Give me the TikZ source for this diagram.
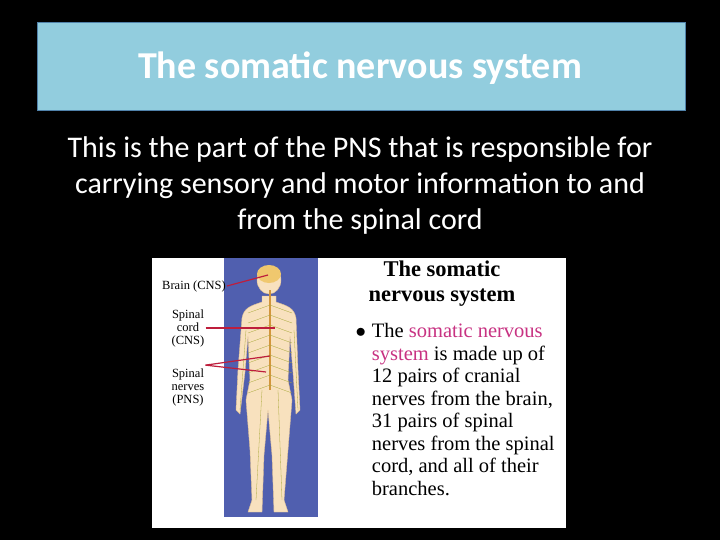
\documentclass[tikz,border=0pt]{standalone}
\usepackage{fontspec}
\setmainfont{Carlito}
\newfontfamily\tms{Liberation Serif}
\definecolor{tbord}{RGB}{80,130,170}
\definecolor{tfill}{RGB}{146,205,222}
\definecolor{panel}{RGB}{80,95,175}
\definecolor{skin}{RGB}{248,225,190}
\definecolor{skinb}{RGB}{220,190,150}
\definecolor{hair}{RGB}{240,200,110}
\definecolor{cordc}{RGB}{210,150,60}
\definecolor{nerve}{RGB}{170,170,60}
\definecolor{ptrc}{RGB}{190,30,60}
\definecolor{pink}{RGB}{200,50,130}
\begin{document}
\begin{tikzpicture}[x=1pt,y=-1pt,
  lbl/.style={font=\tms\fontsize{12.5}{13}\selectfont,align=center,text=black,inner sep=1pt},
  ptr/.style={draw=ptrc,line width=1.2pt}]
\useasboundingbox (0,0) rectangle (720,540);
\fill[black] (0,0) rectangle (720,540);
\node[draw=tbord,fill=tfill,minimum width=648pt,minimum height=88pt,line width=1pt,anchor=north west,inner sep=0pt] (title) at (37,22) {};
\node[text=white,font=\bfseries\fontsize{38}{38}\selectfont] (tt) at (360,68) {The somatic nervous system};
\node[text=white,font=\fontsize{30}{36}\selectfont,align=center] (body) at (360,186) {This is the part of the PNS that is responsible for\\carrying sensory and motor information to and\\from the spinal cord};
\fill[white] (152,258) rectangle (566,528);
\fill[panel] (224,258) rectangle (318,517);
% figure
\begin{scope}[fill=skin,draw=skinb,line width=0.4pt]
\filldraw (262,296) -- (262,302) .. controls (250,306) and (244,308) .. (242,318) -- (238,370) -- (236,410) -- (240,414) -- (245,372) -- (248,336) -- (250,380) -- (246,400) -- (250,450) -- (252,500) -- (248,512) -- (262,512) -- (264,455) -- (268,410) -- (272,455) -- (274,512) -- (288,512) -- (284,500) -- (288,450) -- (292,400) -- (288,380) -- (290,336) -- (293,372) -- (296,414) -- (300,410) -- (298,370) -- (296,318) .. controls (294,308) and (288,306) .. (276,302) -- (276,296) -- cycle;
\filldraw (269,280) ellipse (12 and 14);
\end{scope}
\fill[hair] (269,274) ellipse (12 and 9);
\draw[cordc,line width=1.2pt] (270,290) -- (270,390);
\foreach \y in {305,315,...,385}{\draw[nerve,line width=0.3pt] (270,\y) -- (248,\y+8) (270,\y) -- (292,\y+8);}
\draw[nerve,line width=0.3pt] (262,390) -- (256,500) (278,390) -- (282,500) (246,330) -- (240,410) (294,330) -- (298,410);
% labels
\node[lbl] (brain) at (194,286) {Brain (CNS)};
\node[lbl] (cord) at (188,328) {Spinal\\cord\\(CNS)};
\node[lbl] (nerv) at (188,387) {Spinal\\nerves\\(PNS)};
\coordinate (b1) at (268,275);
\coordinate (c1) at (275,328);
\coordinate (n1) at (270,356);
\coordinate (n2) at (266,372);
\draw[ptr] (brain.east) -- (b1);
\draw[ptr] (cord.east) -- (c1);
\draw[ptr] (nerv.north east) ++(0,-2) coordinate (nj) (nj) -- (n1);
\draw[ptr] (nj) -- (n2);
\node[font=\tms\bfseries\fontsize{22.5}{25}\selectfont,align=center] (rt) at (442,284) {The somatic\\nervous system};
\node[font=\tms\fontsize{20.5}{22.5}\selectfont,align=left,anchor=north west] (rb) at (352,320) {$\bullet$\hspace{6pt}The \textcolor{pink}{somatic nervous}\\\phantom{$\bullet$\hspace{6pt}}\textcolor{pink}{system} is made up of\\\phantom{$\bullet$\hspace{6pt}}12 pairs of cranial\\\phantom{$\bullet$\hspace{6pt}}nerves from the brain,\\\phantom{$\bullet$\hspace{6pt}}31 pairs of spinal\\\phantom{$\bullet$\hspace{6pt}}nerves from the spinal\\\phantom{$\bullet$\hspace{6pt}}cord, and all of their\\\phantom{$\bullet$\hspace{6pt}}branches.};
\end{tikzpicture}
\end{document}
